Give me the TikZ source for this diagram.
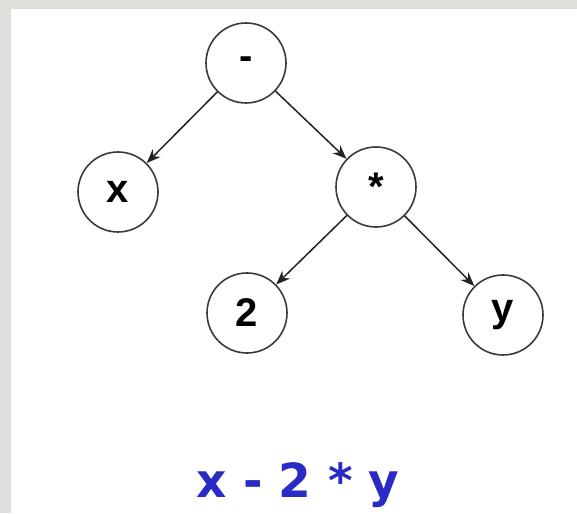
\documentclass[tikz,border=0pt]{standalone}
\usepackage{fontspec}
\setmainfont{Liberation Sans}
\newfontfamily\exprfont{DejaVu Sans}
\usetikzlibrary{arrows.meta}
\definecolor{paper}{HTML}{DFDEDB}
\definecolor{ring}{HTML}{3A3A3A}
\definecolor{exprBlue}{HTML}{2A2AC4}

\begin{document}
\begin{tikzpicture}[x=1pt, y=1pt,
  opnode/.style={circle, draw=ring, line width=1.6pt, fill=white, minimum size=80pt, inner sep=0pt, font=\fontsize{40}{40}\selectfont\bfseries},
  edge/.style={draw=ring!60!black, line width=1.5pt, -{Stealth[length=14pt, width=11pt]}}]
% background
\fill[paper] (0,0) rectangle (577,513);
\fill[white] (11,0) rectangle (577,504);
\useasboundingbox (0,0) rectangle (577,513);
% tree
\node[opnode] (minus) at (246,450) {-};
\node[opnode] (xleaf) at (118,321) {x};
\node[opnode] (times) at (376,326) {*};
\node[opnode] (two) at (247,200) {2};
\node[opnode] (yleaf) at (503,198) {y};
\foreach \a/\b in {minus/xleaf, minus/times, times/two, times/yleaf} {
  \draw[edge] (\a) -- (\b);
}
% expression
\node[text=exprBlue, font=\exprfont\fontsize{47}{47}\selectfont\bfseries, anchor=base] (expr) at (298,16) {x - 2 * y};
\end{tikzpicture}
\end{document}
